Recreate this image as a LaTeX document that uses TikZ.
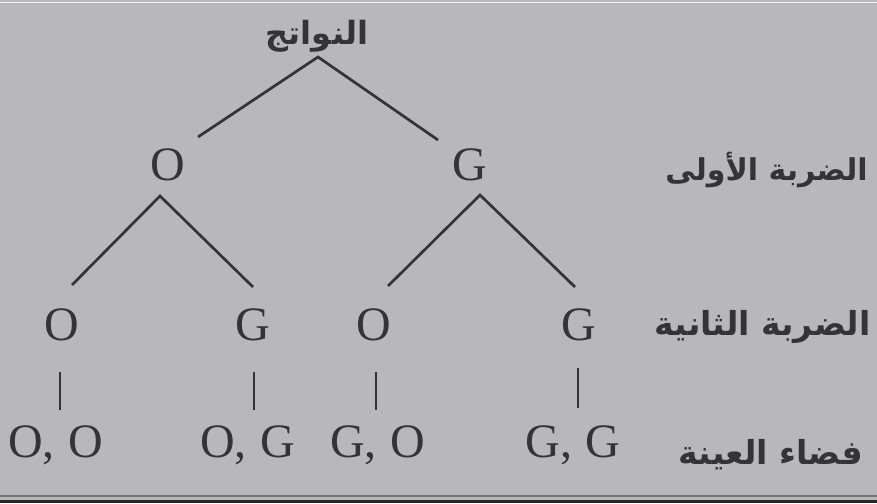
\documentclass[tikz,border=0pt]{standalone}
\usepackage{fontspec}
\setmainfont{Liberation Serif}
\newfontfamily\arabicfont[Script=Arabic]{DejaVu Sans}
\TeXXeTstate=1
\usetikzlibrary{calc}
\definecolor{bg}{RGB}{184,184,186}
\definecolor{ink}{RGB}{52,52,55}
\begin{document}
\begin{tikzpicture}[x=1pt,y=-1pt,
  letter/.style={font=\fontsize{48}{48}\selectfont, text=ink, inner sep=0pt, anchor=base},
  arlabel/.style={font=\arabicfont\bfseries, text=ink, inner sep=0pt},
  branch/.style={draw=ink, line width=2.7pt},
]
\fill[bg] (0,0) rectangle (877,503);
\useasboundingbox (0,0) rectangle (877,503);
% frame lines at bottom
\draw[black!55, line width=1.2pt] (0,496) -- (877,496);
\fill[black!85] (0,499.5) rectangle (877,503);
\draw[white!80!bg, line width=1pt] (0,3) -- (877,3);

% nodes
\node[arlabel, anchor=base] (root) at (317,45) {\fontsize{32}{32}\selectfont\beginR النواتج\endR};
\node[letter] (o1) at (168,180) {O};
\node[letter] (g1) at (470,180) {G};
\node[letter] (o2a) at (62,340) {O};
\node[letter] (g2a) at (253,340) {G};
\node[letter] (o2b) at (374,340) {O};
\node[letter] (g2b) at (579,340) {G};
\node[letter] (oo) at (56,457) {O,\kern14pt O};
\node[letter] (og) at (248,457) {O,\kern14pt G};
\node[letter] (go) at (378,457) {G,\kern14pt O};
\node[letter] (gg) at (573,457) {G,\kern14pt G};

\node[arlabel, anchor=base east] (lab1) at (868,180) {\fontsize{30}{30}\selectfont\beginR الضربة الأولى\endR};
\node[arlabel, anchor=base east] (lab2) at (871,335) {\fontsize{33}{33}\selectfont\beginR الضربة الثانية\endR};
\node[arlabel, anchor=base east] (lab3) at (863,464) {\fontsize{33}{33}\selectfont\beginR فضاء العينة\endR};

% connectors
\draw[branch] ($(o1.base)+(30,-43)$) -- ($(root.base)+(1,12)$) -- ($(g1.base)+(-32,-40)$);
\draw[branch] ($(o2a.base)+(10,-55)$) -- ($(o1.base)+(-8,16)$) -- ($(g2a.base)+(0,-53)$);
\draw[branch] ($(o2b.base)+(14,-54)$) -- ($(g1.base)+(10,15)$) -- ($(g2b.base)+(-4,-53)$);
\draw[branch] ($(o2a.base)+(-2,32)$) -- ($(o2a.base)+(-2,70)$);
\draw[branch] ($(g2a.base)+(1,32)$) -- ($(g2a.base)+(1,70)$);
\draw[branch] ($(o2b.base)+(2,32)$) -- ($(o2b.base)+(2,70)$);
\draw[branch] ($(g2b.base)+(-1,28)$) -- ($(g2b.base)+(-1,68)$);
\end{tikzpicture}
\end{document}
